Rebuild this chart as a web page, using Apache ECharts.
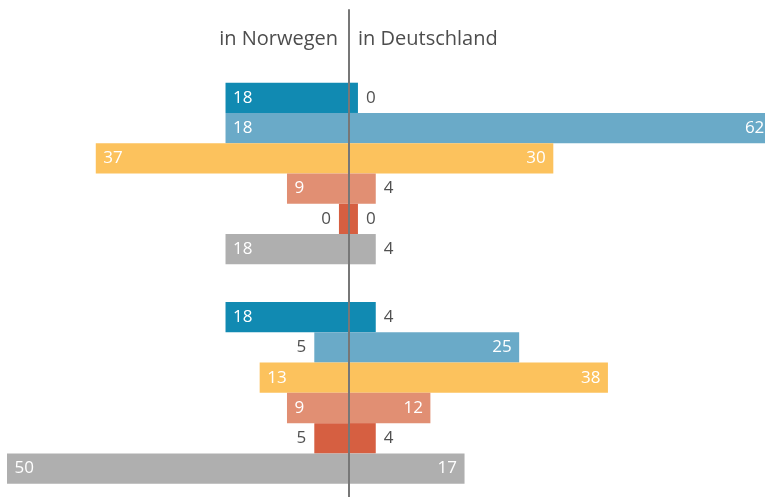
<!DOCTYPE html>
<html>
<head>
<meta charset="utf-8">
<script src="https://cdn.jsdelivr.net/npm/echarts@6/dist/echarts.min.js"></script>
<style>html,body{margin:0;padding:0;background:#fff}#c{width:765px;height:497px}</style>
</head>
<body>
<div id="c"></div>
<script>
// Data
const headerLeft = 'in Norwegen';
const headerRight = 'in Deutschland';
const rowsTop = ['1', '2', '3', '4', '5', '6'];
const rowsBottom = ['1', '2', '3', '4', '5', '6'];
const norwayTop = [18, 18, 37, 9, 0, 18];
const germanyTop = [0, 62, 30, 4, 0, 4];
const norwayBottom = [18, 5, 13, 9, 5, 50];
const germanyBottom = [4, 25, 38, 12, 4, 17];
const rowColors = ['#118ab2', '#6aaac8', '#fcc25d', '#e18f73', '#d65f41', '#afafaf'];

const FONT = '"Open Sans", sans-serif';
const MIN_W = 9.5;
const INSIDE_MIN = 8;

function makeRender(sign) {
  return function (params, api) {
    const idx = api.value(0);
    const v = api.value(1);
    const base = api.coord([0, idx]);
    const end = api.coord([sign * v, idx]);
    const h = api.size([0, 1])[1];
    let w = end[0] - base[0];
    if (Math.abs(w) < MIN_W) w = sign * MIN_W;
    const x = Math.min(base[0], base[0] + w);
    const inside = v >= INSIDE_MIN;
    let pos;
    if (sign < 0) pos = inside ? 'insideLeft' : 'left';
    else pos = inside ? 'insideRight' : 'right';
    return {
      type: 'rect',
      shape: { x: x, y: base[1] - h / 2, width: Math.abs(w), height: h },
      style: { fill: rowColors[idx] },
      textContent: {
        style: {
          text: String(v),
          fill: inside ? '#ffffff' : '#505050',
          fontSize: 17,
          fontFamily: FONT
        }
      },
      textConfig: { position: pos, distance: inside ? 7.5 : 8 }
    };
  };
}

function seriesData(vals) {
  return vals.map((v, i) => [i, v]);
}

const xAxisBase = { type: 'value', min: -50, max: 61, show: false };

const option = {
  animation: false,
  title: [
    { text: headerLeft, right: 427, top: 29, textStyle: { fontFamily: FONT, fontSize: 20, fontWeight: 'normal', color: '#4d4d4d' }, padding: 0 },
    { text: headerRight, left: 358, top: 29, textStyle: { fontFamily: FONT, fontSize: 20, fontWeight: 'normal', color: '#4d4d4d' }, padding: 0 }
  ],
  grid: [
    { left: 7, right: 0, top: 82.7, height: 181.6 },
    { left: 7, right: 0, top: 302, height: 181.7 },
    { left: 7, right: 0, top: 10, bottom: 0 }
  ],
  xAxis: [
    Object.assign({ gridIndex: 0 }, xAxisBase),
    Object.assign({ gridIndex: 1 }, xAxisBase),
    Object.assign({ gridIndex: 2 }, xAxisBase)
  ],
  yAxis: [
    { gridIndex: 0, type: 'category', data: rowsTop, inverse: true, show: false },
    { gridIndex: 1, type: 'category', data: rowsBottom, inverse: true, show: false },
    {
      gridIndex: 2, type: 'value', min: 0, max: 1, z: 10,
      axisLine: { show: true, onZero: true, lineStyle: { color: '#777777', width: 2 } },
      axisTick: { show: false }, axisLabel: { show: false }, splitLine: { show: false }
    }
  ],
  series: [
    { type: 'custom', xAxisIndex: 0, yAxisIndex: 0, renderItem: makeRender(-1), data: seriesData(norwayTop), z: 2 },
    { type: 'custom', xAxisIndex: 0, yAxisIndex: 0, renderItem: makeRender(1), data: seriesData(germanyTop), z: 2 },
    { type: 'custom', xAxisIndex: 1, yAxisIndex: 1, renderItem: makeRender(-1), data: seriesData(norwayBottom), z: 2 },
    { type: 'custom', xAxisIndex: 1, yAxisIndex: 1, renderItem: makeRender(1), data: seriesData(germanyBottom), z: 2 }
  ]
};

const chart = echarts.init(document.getElementById('c'), null, { renderer: 'canvas' });
chart.setOption(option);
</script>
</body>
</html>
